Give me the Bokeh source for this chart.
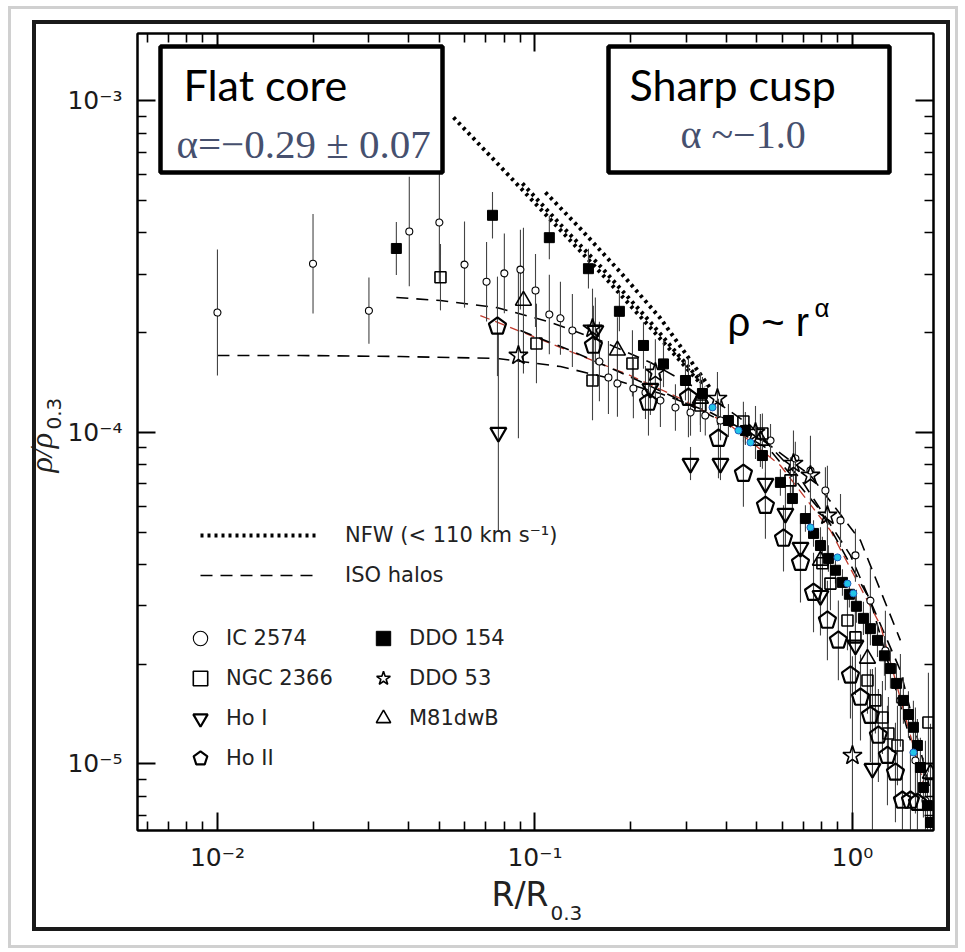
from math import pi
import numpy as np
from bokeh.plotting import figure
from bokeh.models import (LogAxis, FixedTicker, CustomJSTickFormatter, Label,
                          BoxAnnotation, Legend, LegendItem, Range1d, InlineStyleSheet)
from bokeh.embed import file_html
from bokeh.resources import INLINE

# ---------------- data ----------------
ic2574_r = [0.0100, 0.0200, 0.0300, 0.0402, 0.0500, 0.0600, 0.0704, 0.0801, 0.0900, 0.1004,
            0.111, 0.1203, 0.1312, 0.1596, 0.1704, 0.1819, 0.2042, 0.2229, 0.2484, 0.277,
            0.309, 0.344, 0.384, 0.460, 0.552, 0.661, 0.7375, 0.822, 0.917, 1.022,
            1.139, 1.270, 1.416, 1.579, 1.698]
ic2574_rho = [2.30e-4, 3.23e-4, 2.33e-4, 4.04e-4, 4.30e-4, 3.21e-4, 2.85e-4, 3.02e-4, 3.10e-4, 2.68e-4,
              2.27e-4, 2.21e-4, 2.03e-4, 1.637e-4, 1.465e-4, 1.405e-4, 1.357e-4, 1.320e-4, 1.249e-4, 1.190e-4,
              1.149e-4, 1.125e-4, 1.087e-4, 1.028e-4, 9.46e-5, 8.35e-5, 7.68e-5, 6.68e-5, 5.43e-5, 4.26e-5,
              3.11e-5, 2.20e-5, 1.555e-5, 1.025e-5, 7.76e-6]
ic2574_err = [0.19, 0.15, 0.10, 0.165, 0.18, 0.13, 0.12, 0.12, 0.12, 0.11,
              0.12, 0.11, 0.11, 0.12, 0.11, 0.10, 0.09, 0.08, 0.08, 0.07,
              0.07, 0.06, 0.06, 0.05, 0.05, 0.05, 0.06, 0.07, 0.08, 0.08,
              0.10, 0.12, 0.14, 0.16, 0.18]

ddo154_r = [0.0366, 0.0735, 0.111, 0.1474, 0.1845, 0.2197, 0.254, 0.2979, 0.3369, 0.4068,
            0.460, 0.5205, 0.593, 0.647, 0.711, 0.754, 0.793, 0.840, 0.884, 0.930,
            0.978, 1.029, 1.083, 1.139, 1.199, 1.261, 1.317, 1.376, 1.447, 1.501,
            1.556, 1.602, 1.637, 1.673, 1.722, 1.761]
ddo154_rho = [3.59e-4, 4.52e-4, 3.87e-4, 3.12e-4, 2.32e-4, 1.83e-4, 1.61e-4, 1.435e-4, 1.311e-4, 1.087e-4,
              1.014e-4, 8.52e-5, 7.07e-5, 6.32e-5, 5.50e-5, 4.96e-5, 4.56e-5, 4.17e-5, 3.84e-5, 3.53e-5,
              3.25e-5, 2.99e-5, 2.75e-5, 2.56e-5, 2.36e-5, 2.12e-5, 1.94e-5, 1.75e-5, 1.555e-5, 1.41e-5,
              1.29e-5, 1.137e-5, 9.76e-6, 8.49e-6, 7.49e-6, 6.66e-6]
ddo154_err = [0.08, 0.07, 0.065, 0.06, 0.06, 0.07, 0.07, 0.06, 0.05, 0.05,
              0.04, 0.04, 0.04, 0.04, 0.04, 0.04, 0.04, 0.04, 0.04, 0.04,
              0.04, 0.05, 0.05, 0.05, 0.05, 0.06, 0.06, 0.06, 0.07, 0.07,
              0.08, 0.08, 0.09, 0.09, 0.10, 0.10]

ngc2366_r = [0.0504, 0.1011, 0.1518, 0.2028, 0.332, 0.4535, 0.5205, 0.6378, 0.8043, 0.8525,
             0.9645, 1.022, 1.115, 1.181, 1.243, 1.298, 1.386, 1.735]
ngc2366_rho = [2.94e-4, 1.856e-4, 1.435e-4, 1.615e-4, 1.206e-4, 1.079e-4, 9.93e-5, 7.17e-5, 4.03e-5, 3.50e-5,
               2.71e-5, 2.41e-5, 1.786e-5, 1.555e-5, 1.381e-5, 1.236e-5, 1.137e-5, 1.334e-5]
ngc2366_err = [0.10, 0.12, 0.12, 0.10, 0.08, 0.06, 0.06, 0.07, 0.08, 0.08,
               0.09, 0.09, 0.10, 0.10, 0.11, 0.11, 0.12, 0.15]

hoI_r = [0.0767, 0.155, 0.231, 0.309, 0.384, 0.532, 0.615, 0.686, 0.793, 1.022, 1.156]
hoI_rho = [1.0e-4, 2.03e-4, 1.357e-4, 8.06e-5, 8.06e-5, 7.02e-5, 5.70e-5, 4.50e-5, 3.22e-5, 2.28e-5, 9.69e-6]
hoI_err = [0.30, 0.10, 0.08, 0.05, 0.05, 0.08, 0.10, 0.10, 0.12, 0.15, 0.30]

hoII_r = [0.0762, 0.1528, 0.2278, 0.3044, 0.3784, 0.4535, 0.532, 0.6065, 0.686, 0.754,
          0.834, 0.903, 0.9856, 1.060, 1.139, 1.207, 1.289, 1.366, 1.437, 1.523, 1.602]
hoII_rho = [2.09e-4, 1.83e-4, 1.232e-4, 1.275e-4, 9.59e-5, 7.52e-5, 6.02e-5, 4.79e-5, 4.05e-5, 3.29e-5,
            2.71e-5, 2.36e-5, 1.85e-5, 1.587e-5, 1.40e-5, 1.219e-5, 1.06e-5, 9.43e-6, 7.76e-6, 7.76e-6, 7.65e-6]
hoII_err = [0.15, 0.12, 0.10, 0.12, 0.12, 0.10, 0.10, 0.10, 0.12, 0.12,
            0.12, 0.12, 0.13, 0.13, 0.14, 0.14, 0.15, 0.15, 0.15, 0.15, 0.15]

ddo53_r = [0.0887, 0.1518, 0.2395, 0.3757, 0.495, 0.652, 0.7375, 0.834, 1.0]
ddo53_rho = [1.707e-4, 2.06e-4, 1.517e-4, 1.266e-4, 1.0e-4, 8.06e-5, 7.42e-5, 5.62e-5, 1.06e-5]
ddo53_err = [0.25, 0.12, 0.10, 0.08, 0.08, 0.10, 0.12, 0.15, 0.30]

m81dwb_r = [0.092, 0.1819, 0.332, 0.513, 0.793, 1.115, 1.761]
m81dwb_rho = [2.50e-4, 1.768e-4, 1.266e-4, 9.46e-5, 4.11e-5, 2.08e-5, 9.36e-6]
m81dwb_err = [0.22, 0.10, 0.08, 0.08, 0.10, 0.12, 0.15]

cyan_r = [0.3624, 0.4375, 0.4774, 0.7375, 0.897, 0.9645, 1.007, 1.556]
cyan_rho = [1.19e-4, 1.014e-4, 9.33e-5, 5.17e-5, 4.20e-5, 3.50e-5, 3.27e-5, 1.083e-5]

# NFW model curves (dotted)
nfw1_r = [0.0554, 0.0778, 0.1119, 0.1608, 0.2311, 0.3321]
nfw1_rho = [8.92e-4, 6.34e-4, 4.39e-4, 3.04e-4, 2.07e-4, 1.405e-4]
nfw2_r = [0.0913, 0.1203, 0.1608, 0.2311, 0.344]
nfw2_rho = [5.64e-4, 4.24e-4, 3.17e-4, 2.15e-4, 1.376e-4]
nfw3_r = [0.1079, 0.139, 0.186, 0.2484, 0.357]
nfw3_rho = [5.30e-4, 4.12e-4, 3.04e-4, 2.21e-4, 1.357e-4]

# ISO halo fits (dashed)
iso1_r = [0.0100, 0.01826, 0.0377, 0.0762, 0.1203, 0.1729, 0.2484, 0.357, 0.513, 0.7375, 1.060, 1.416]
iso1_rho = [1.707e-4, 1.707e-4, 1.695e-4, 1.672e-4, 1.581e-4, 1.455e-4, 1.311e-4, 1.149e-4, 9.59e-5, 7.42e-5, 4.72e-5, 2.36e-5]
iso2_r = [0.0366, 0.0504, 0.0762, 0.1119, 0.1608, 0.2311, 0.3321, 0.477, 0.686, 0.9856, 1.416, 1.761]
iso2_rho = [2.555e-4, 2.50e-4, 2.38e-4, 2.15e-4, 1.894e-4, 1.626e-4, 1.339e-4, 1.05e-4, 7.26e-5, 4.26e-5, 1.914e-5, 8.32e-6]
iso3_r = [0.0673, 0.0968, 0.139, 0.1999, 0.2872, 0.4128, 0.593, 0.8525, 1.225, 1.698]
iso3_rho = [2.253e-4, 1.962e-4, 1.707e-4, 1.485e-4, 1.266e-4, 1.05e-4, 7.95e-5, 5.06e-5, 2.62e-5, 8.32e-6]
iso4_r = [0.090, 0.1293, 0.186, 0.2672, 0.384, 0.552, 0.793, 1.139, 1.523]
iso4_rho = [2.03e-4, 1.768e-4, 1.517e-4, 1.293e-4, 1.087e-4, 8.82e-5, 5.81e-5, 3.11e-5, 1.178e-5]

x_major = [0.01, 0.1, 1.0]
x_minor = [0.006, 0.007, 0.008, 0.009, 0.02, 0.03, 0.04, 0.05, 0.06, 0.07, 0.08, 0.09,
           0.2, 0.3, 0.4, 0.5, 0.6, 0.7, 0.8, 0.9]
y_major = [1e-5, 1e-4, 1e-3]
y_minor = [7e-6, 8e-6, 9e-6, 2e-5, 3e-5, 4e-5, 5e-5, 6e-5, 7e-5, 8e-5, 9e-5,
           2e-4, 3e-4, 4e-4, 5e-4, 6e-4, 7e-4, 8e-4, 9e-4]

# ---------------- figure ----------------
p = figure(width=965, height=952, x_axis_type="log", y_axis_type="log",
           x_range=Range1d(0.0056, 1.80), y_range=Range1d(6.30e-6, 1.598e-3),
           output_backend="svg", toolbar_location=None,
           min_border_left=137, min_border_right=32, min_border_top=33, min_border_bottom=122,
           background_fill_color="white", border_fill_color="white")
p.grid.visible = False
p.outline_line_color = "black"
p.outline_line_width = 2

top_ax = LogAxis()
right_ax = LogAxis()
p.add_layout(top_ax, "above")
p.add_layout(right_ax, "right")
bottom_ax = p.below[0]
left_ax = p.left[0]

fmt_code = """
const e = Math.round(Math.log10(tick));
const m = {"-":"\u207b","0":"\u2070","1":"\u00b9","2":"\u00b2","3":"\u00b3","4":"\u2074","5":"\u2075","6":"\u2076","7":"\u2077","8":"\u2078","9":"\u2079"};
return "10" + String(e).split("").map(c => m[c]).join("");
"""

for ax, is_x in [(bottom_ax, True), (top_ax, True), (left_ax, False), (right_ax, False)]:
    ax.ticker = FixedTicker(ticks=x_major if is_x else y_major,
                            minor_ticks=x_minor if is_x else y_minor)
    ax.major_tick_in = 18
    ax.major_tick_out = 0
    ax.minor_tick_in = 9
    ax.minor_tick_out = 0
    ax.axis_line_width = 2
    ax.major_tick_line_width = 2
    ax.minor_tick_line_width = 1.6
    ax.axis_line_color = "black"
    ax.major_tick_line_color = "black"
    ax.minor_tick_line_color = "black"
    ax.major_label_text_font = "DejaVu Sans"
    ax.major_label_text_font_size = "25px"
    ax.major_label_text_color = "#1a1a1a"

bottom_ax.formatter = CustomJSTickFormatter(code=fmt_code)
left_ax.formatter = CustomJSTickFormatter(code=fmt_code)
top_ax.formatter = CustomJSTickFormatter(code="return '';")
right_ax.formatter = CustomJSTickFormatter(code="return '';")
bottom_ax.major_label_standoff = 12
left_ax.major_label_standoff = 15
top_ax.major_label_standoff = 0
right_ax.major_label_standoff = 0

# ---------------- model lines ----------------
nfw_style = dict(line_color="black", line_width=4, line_dash="3 4", line_cap="butt")
nfw_r1 = p.line(nfw1_r, nfw1_rho, **nfw_style)
p.line(nfw2_r, nfw2_rho, **nfw_style)
p.line(nfw3_r, nfw3_rho, **nfw_style)

iso_style = dict(line_color="black", line_width=1.6, line_dash="12 8")
iso_r1 = p.line(iso1_r, iso1_rho, **iso_style)
p.line(iso2_r, iso2_rho, **iso_style)
p.line(iso3_r, iso3_rho, line_color="#c0392b", line_width=1.3, line_dash="10 6")
p.line(iso4_r, iso4_rho, **iso_style)

# ---------------- error bars ----------------
def errbars(r, rho, err, color="#444444", width=1.1):
    r = np.array(r); rho = np.array(rho); e = np.array(err)
    p.segment(x0=r, y0=rho * 10 ** (-e), x1=r, y1=rho * 10 ** e,
              line_color=color, line_width=width)

errbars(ic2574_r, ic2574_rho, ic2574_err)
errbars(ddo154_r, ddo154_rho, ddo154_err)
errbars(ngc2366_r, ngc2366_rho, ngc2366_err)
errbars(hoI_r, hoI_rho, hoI_err)
errbars(hoII_r, hoII_rho, hoII_err)
errbars(ddo53_r, ddo53_rho, ddo53_err)
errbars(m81dwb_r, m81dwb_rho, m81dwb_err)

# ---------------- markers ----------------
r_ic = p.scatter(ic2574_r, ic2574_rho, marker="circle", size=7, line_color="black",
                 line_width=1.1, fill_color="white")
r_ngc = p.scatter(ngc2366_r, ngc2366_rho, marker="square", size=11, line_color="black",
                  line_width=1.6, fill_color=None)
r_hoI = p.scatter(hoI_r, hoI_rho, marker="inverted_triangle", size=16, line_color="black",
                  line_width=2.2, fill_color=None)
try:
    r_hoII = p.ngon(x=hoII_r, y=hoII_rho, radius=9, radius_units="screen", n=5, angle=0.0,
                    line_color="black", line_width=2.2, fill_color=None)
except Exception:
    r_hoII = p.scatter(hoII_r, hoII_rho, marker="hex", size=17, line_color="black",
                       line_width=2.2, fill_color=None)
r_ddo154 = p.scatter(ddo154_r, ddo154_rho, marker="square", size=10, line_color="black",
                     fill_color="black")
r_ddo53 = p.scatter(ddo53_r, ddo53_rho, marker="star", size=20, line_color="black",
                    line_width=1.6, fill_color=None)
r_m81 = p.scatter(m81dwb_r, m81dwb_rho, marker="triangle", size=16, line_color="black",
                  line_width=1.6, fill_color=None)
p.scatter(cyan_r, cyan_rho, marker="circle", size=7, line_color="#1f5fbf", fill_color="#22c5e8",
          line_width=1)

# ---------------- legends ----------------
leg_font = dict(label_text_font="DejaVu Sans", label_text_font_size="21px", label_text_color="#222222")
leg_lines = Legend(items=[LegendItem(label="NFW (< 110 km s\u207b\u00b9)", renderers=[nfw_r1]),
                          LegendItem(label="ISO halos", renderers=[iso_r1])],
                   location=(63, 240), glyph_width=118, glyph_height=30, label_height=30,
                   spacing=10, label_standoff=27, padding=0, margin=0,
                   border_line_alpha=0, background_fill_alpha=0, **leg_font)
p.add_layout(leg_lines)

leg_marks = Legend(items=[LegendItem(label="IC 2574", renderers=[r_ic]),
                          LegendItem(label="NGC 2366", renderers=[r_ngc]),
                          LegendItem(label="Ho I", renderers=[r_hoI]),
                          LegendItem(label="Ho II", renderers=[r_hoII]),
                          LegendItem(label="DDO 154", renderers=[r_ddo154]),
                          LegendItem(label="DDO 53", renderers=[r_ddo53]),
                          LegendItem(label="M81dwB", renderers=[r_m81])],
                   location=(45, 52), orientation="vertical", nrows=4,
                   glyph_width=36, glyph_height=40, label_height=40, label_width=139,
                   spacing=0, label_standoff=8, padding=0, margin=0,
                   border_line_alpha=0, background_fill_alpha=0, **leg_font)
p.add_layout(leg_marks)

# ---------------- boxes & texts (canvas pixel units) ----------------
def cbox(l, r, t, b, lc, lw, fill="white"):
    p.add_layout(BoxAnnotation(left=l, right=r, top=t, bottom=b,
                               left_units="canvas", right_units="canvas",
                               top_units="canvas", bottom_units="canvas",
                               fill_color=fill, fill_alpha=1,
                               line_color=lc, line_width=lw, line_alpha=1))

def clabel(text, x, y, size, font, color="black", style="normal", angle=0.0, place=None):
    # x, y: start of the text on its baseline (canvas pixels)
    if angle == 0.0:
        y = y - 0.41 * size
    else:
        x = x - 0.41 * size
    lab = Label(text=text, x=x, y=y, x_units="canvas", y_units="canvas",
                text_font=font, text_font_size=f"{size}px", text_color=color,
                text_font_style=style, angle=angle, text_align="left",
                text_baseline="alphabetic")
    if place is None:
        p.add_layout(lab)
    else:
        p.add_layout(lab, place)

# annotation boxes
cbox(160, 442, 46, 172, "black", 4.5)
cbox(608, 889, 46, 172, "black", 4.5)

clabel("Flat core", 183, 102, 43, "Lato")
clabel("\u03b1=\u22120.29 \u00b1 0.07", 176, 160, 41, "Liberation Serif", color="#46506e")
clabel("Sharp cusp", 629, 102, 43, "Lato")
clabel("\u03b1 ~\u22121.0", 680, 150, 40, "Liberation Serif", color="#46506e")

clabel("\u03c1 ~ r", 727, 338, 40, "Liberation Sans")
clabel("\u03b1", 814, 318, 26, "Liberation Sans")

# axis titles (outside the frame -> side panels)
clabel("R/R", 491, 908, 33, "DejaVu Sans", color="#222222", place="below")
clabel("0.3", 550, 921, 20, "DejaVu Sans", color="#222222", place="below")
clabel("\u03c1/\u03c1", 54, 472, 32, "Liberation Serif", color="#222222", style="italic",
       angle=pi / 2, place="left")
clabel("0.3", 62, 429, 20, "DejaVu Sans", color="#222222", angle=pi / 2, place="left")

# outer picture frames (page decoration)
css = """
:host { position: relative; }
:host::before { content: ""; position: absolute; left: 8px; top: 6px; width: 950px; height: 942px;
  border: 3px solid #d0d0d0; box-sizing: border-box; pointer-events: none; z-index: 5; }
:host::after { content: ""; position: absolute; left: 32px; top: 20px; width: 918px; height: 911px;
  border: 4px solid #1a1a1a; box-sizing: border-box; pointer-events: none; z-index: 6; }
"""
p.stylesheets = [InlineStyleSheet(css=css)]

open("out.html", "w").write(file_html(p, INLINE))
